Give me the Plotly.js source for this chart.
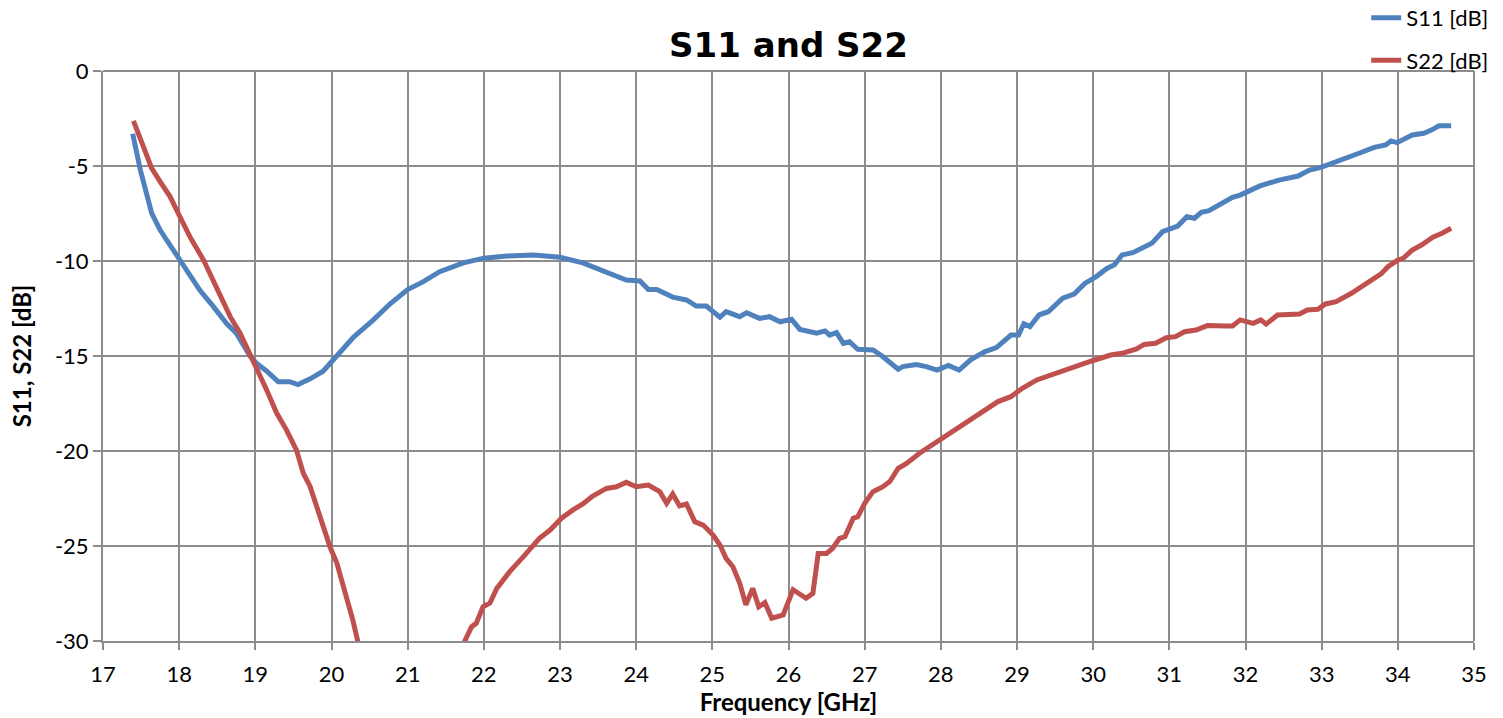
<!DOCTYPE html>
<html>
<head>
<meta charset="utf-8">
<script src="https://cdn.plot.ly/plotly-3.0.1.min.js"></script>
<style>html,body{margin:0;padding:0;background:#fff;}#chart{width:1503px;height:718px;}</style>
</head>
<body>
<div id="chart"></div>
<script>
const s11Freq = [17.39,17.49,17.64,17.75,17.88,18.01,18.10,18.27,18.45,18.62,18.75,18.93,19.02,19.15,19.30,19.45,19.56,19.72,19.89,20.02,20.15,20.29,20.55,20.77,21.0,21.2,21.42,21.73,22.0,22.3,22.65,22.87,23.0,23.3,23.61,23.87,24.05,24.16,24.27,24.48,24.66,24.79,24.92,25.1,25.18,25.36,25.45,25.62,25.75,25.89,26.04,26.15,26.37,26.48,26.54,26.63,26.72,26.8,26.91,27.11,27.24,27.44,27.50,27.68,27.81,27.95,28.10,28.24,28.39,28.58,28.73,28.92,29.02,29.09,29.17,29.29,29.41,29.6,29.75,29.89,30.04,30.18,30.28,30.38,30.52,30.77,30.91,31.11,31.23,31.33,31.42,31.52,31.83,31.93,32.19,32.44,32.69,32.84,32.99,33.14,33.34,33.49,33.69,33.84,33.91,33.99,34.19,34.34,34.44,34.54,34.7];
const s11Vals = [-3.3,-5.2,-7.49,-8.37,-9.16,-9.95,-10.56,-11.53,-12.4,-13.28,-13.8,-15.0,-15.4,-15.8,-16.35,-16.35,-16.5,-16.2,-15.8,-15.2,-14.7,-14.0,-13.1,-12.25,-11.5,-11.1,-10.56,-10.1,-9.85,-9.74,-9.68,-9.74,-9.8,-10.1,-10.56,-11.0,-11.05,-11.5,-11.5,-11.9,-12.05,-12.37,-12.37,-12.96,-12.67,-12.93,-12.72,-13.02,-12.93,-13.2,-13.07,-13.6,-13.8,-13.68,-13.9,-13.77,-14.33,-14.25,-14.65,-14.68,-15.04,-15.7,-15.56,-15.45,-15.56,-15.74,-15.5,-15.74,-15.2,-14.77,-14.56,-13.9,-13.9,-13.3,-13.45,-12.84,-12.67,-11.96,-11.74,-11.18,-10.82,-10.39,-10.2,-9.68,-9.56,-9.07,-8.46,-8.16,-7.67,-7.75,-7.44,-7.35,-6.65,-6.53,-6.05,-5.74,-5.53,-5.21,-5.07,-4.86,-4.6,-4.33,-4.02,-3.89,-3.68,-3.77,-3.37,-3.28,-3.11,-2.88,-2.88];

const s22Freq = [17.40,17.53,17.64,17.75,17.88,18.01,18.14,18.32,18.49,18.67,18.8,18.93,19.02,19.15,19.28,19.41,19.54,19.63,19.72,19.85,19.98,20.07,20.2,20.28,20.35,20.45,21.65,21.75,21.84,21.9,21.99,22.08,22.17,22.34,22.52,22.73,22.87,23.02,23.17,23.3,23.43,23.61,23.74,23.87,24.0,24.16,24.31,24.4,24.48,24.57,24.66,24.77,24.88,25.01,25.1,25.18,25.27,25.36,25.44,25.53,25.61,25.69,25.78,25.93,26.06,26.23,26.32,26.39,26.5,26.58,26.67,26.74,26.85,26.91,27.0,27.11,27.24,27.33,27.44,27.55,27.72,28.0,28.19,28.44,28.58,28.75,28.92,29.07,29.26,29.5,29.75,29.99,30.23,30.38,30.57,30.67,30.82,30.96,31.08,31.2,31.35,31.5,31.74,31.83,31.93,32.1,32.2,32.27,32.42,32.56,32.71,32.81,32.95,33.05,33.19,33.39,33.58,33.78,33.87,34.0,34.07,34.19,34.31,34.46,34.58,34.7];
const s22Vals = [-2.62,-3.98,-5.12,-5.82,-6.61,-7.67,-8.72,-9.95,-11.35,-12.93,-13.8,-14.9,-15.56,-16.8,-18.0,-18.9,-19.95,-21.17,-21.88,-23.46,-25.04,-25.9,-27.67,-28.9,-30.1,-32.5,-32.5,-30.0,-29.25,-29.07,-28.2,-28.0,-27.23,-26.35,-25.56,-24.6,-24.16,-23.54,-23.1,-22.79,-22.37,-21.97,-21.88,-21.65,-21.88,-21.79,-22.14,-22.75,-22.26,-22.89,-22.79,-23.72,-23.9,-24.42,-24.95,-25.65,-26.09,-26.96,-28.1,-27.23,-28.2,-27.98,-28.8,-28.63,-27.3,-27.75,-27.49,-25.39,-25.39,-25.12,-24.6,-24.51,-23.54,-23.46,-22.75,-22.14,-21.88,-21.61,-20.91,-20.65,-20.12,-19.39,-18.9,-18.28,-17.84,-17.4,-17.14,-16.7,-16.26,-15.91,-15.56,-15.25,-14.95,-14.86,-14.63,-14.39,-14.33,-14.04,-13.98,-13.72,-13.63,-13.4,-13.42,-13.42,-13.1,-13.28,-13.1,-13.32,-12.84,-12.84,-12.79,-12.58,-12.54,-12.26,-12.14,-11.7,-11.21,-10.68,-10.3,-9.95,-9.86,-9.42,-9.16,-8.75,-8.54,-8.28];

const seriesNames = ['S11 [dB]','S22 [dB]'];
const xTickVals = [17,18,19,20,21,22,23,24,25,26,27,28,29,30,31,32,33,34,35];
const yTickVals = [0,-5,-10,-15,-20,-25,-30];

const FONT = 'Lato, "Open Sans", sans-serif';
const data = [
  {x:s11Freq, y:s11Vals, name:seriesNames[0], type:'scatter', mode:'lines', line:{color:'#4F81BD', width:5}, legendgroup:'a'},
  {x:s22Freq, y:s22Vals, name:seriesNames[1], type:'scatter', mode:'lines', line:{color:'#C0504D', width:5}, legendgroup:'b'}
];
const layout = {
  width:1503, height:718,
  margin:{l:103, r:29, t:71, b:77, autoexpand:false},
  paper_bgcolor:'#fff', plot_bgcolor:'#fff',
  font:{family:FONT, color:'#000', size:22},
  title:{text:'<b>S11 and S22</b>', font:{size:34, family:'"DejaVu Sans", sans-serif', color:'#000'}, x:0.5, xanchor:'center', xref:'paper', y:0.937, yanchor:'middle'},
  showlegend:true,
  legend:{x:1.014, xanchor:'right', y:1.13, yanchor:'top', font:{size:22, family:FONT}, traceorder:'grouped', tracegroupgap:11, bgcolor:'rgba(0,0,0,0)'},
  xaxis:{range:[17,35], tickvals:xTickVals, ticktext:xTickVals.map(String), showgrid:true, gridcolor:'#8c8c8c', gridwidth:2,
         showline:true, linecolor:'#8c8c8c', linewidth:2, ticks:'outside', ticklen:7, tickcolor:'#8c8c8c', tickwidth:2,
         tickfont:{size:22}, ticklabelstandoff:6, zeroline:false,
         title:{text:'<b>Frequency [GHz]</b>', font:{size:24}, standoff:2}},
  yaxis:{range:[-30,0], tickvals:yTickVals, ticktext:yTickVals.map(String), showgrid:true, gridcolor:'#8c8c8c', gridwidth:2,
         showline:true, linecolor:'#8c8c8c', linewidth:2, ticks:'outside', ticklen:8, tickcolor:'#8c8c8c', tickwidth:2,
         tickfont:{size:22}, zeroline:false,
         title:{text:'<b>S11, S22 [dB]</b>', font:{size:24}, standoff:16}},
  shapes:[
    {type:'line', xref:'paper', yref:'paper', x0:0, x1:1, y0:1, y1:1, line:{color:'#8c8c8c', width:2}},
    {type:'line', xref:'paper', yref:'paper', x0:1, x1:1, y0:0, y1:1, line:{color:'#8c8c8c', width:2}}
  ]
};
Plotly.newPlot('chart', data, layout, {displayModeBar:false, staticPlot:true});
</script>
</body>
</html>
